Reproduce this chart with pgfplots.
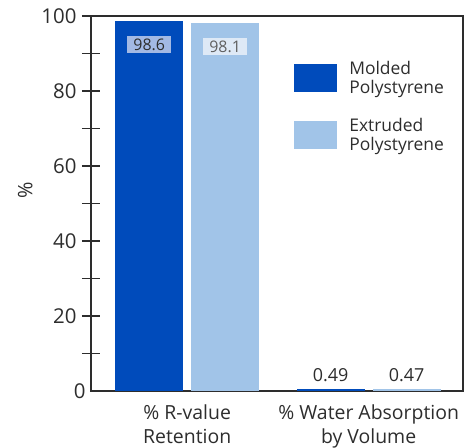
\documentclass[border=0pt]{standalone}
\usepackage{pgfplots}
\pgfplotsset{compat=1.18}
\usepackage{fontspec}
\setmainfont{Open Sans}
\definecolor{dblue}{RGB}{0,75,187}
\definecolor{lblue}{RGB}{161,196,232}
\definecolor{txt}{RGB}{45,45,45}
\definecolor{boxd}{RGB}{163,185,228}
\definecolor{boxl}{RGB}{222,233,246}
\definecolor{txtl}{RGB}{95,95,95}
\begin{document}
\begin{tikzpicture}
\path[use as bounding box] (-91bp,-57bp) rectangle (373bp,391bp);
\begin{axis}[
  scale only axis, width=372bp, height=375bp,
  xmin=-0.53, xmax=1.52, ymin=0, ymax=100,
  axis line style={line width=1.2bp, txt},
  ytick={20,40,...,100}, minor ytick={10,30,...,90},
  extra y ticks={0}, extra y tick style={major tick length=0pt},
  ytick pos=left,
  tick align=center, major tick length=18bp, minor tick length=18bp,
  every tick/.style={line width=1.2bp, txt},
  /pgf/number format/assume math mode=true,
  yticklabel style={font=\fontsize{20.5}{22}\selectfont, text=txt, xshift=-2bp},
  xtick={0,1},
  xticklabels={{\% R-value\\Retention},{\% Water Absorption\\by Volume}},
  xticklabel style={align=center, font=\fontsize{19.5}{24}\selectfont, text=txt, yshift=-1bp},
  x tick style={draw=none},
  ylabel={\%},
  ylabel style={at={(axis description cs:-0.177,0.535)}, anchor=center, font=\fontsize{20}{22}\selectfont, text=txt},
  legend style={draw=none, fill=none, at={(axis description cs:0.546,0.885)}, anchor=north west,
    inner sep=0pt, row sep=19bp,
    nodes={align=left, font=\fontsize{17.5}{19}\selectfont, text=txt, inner xsep=12bp}},
  legend cell align=left,
]
\addplot[ybar, bar width=0.375, fill=dblue, draw=none,
  legend image code/.code={\fill[dblue] (0bp,-14bp) rectangle (43bp,14bp);},
  nodes near coords,
  nodes near coords style={anchor=north, yshift=-15bp, fill=boxd, text=txt,
    inner xsep=6bp, inner ysep=2.5bp, font=\fontsize{16}{17}\selectfont}]
  coordinates {(-0.209,98.6)};
\addlegendentry{Molded\\Polystyrene}
\addplot[ybar, bar width=0.375, fill=lblue, draw=none,
  legend image code/.code={\fill[lblue] (0bp,-14bp) rectangle (43bp,14bp);},
  nodes near coords,
  nodes near coords style={anchor=north, yshift=-15bp, fill=boxl, text=txtl,
    inner xsep=6bp, inner ysep=2.5bp, font=\fontsize{16}{17}\selectfont}]
  coordinates {(0.209,98.1)};
\addlegendentry{Extruded\\Polystyrene}
\addplot[ybar, bar width=0.375, fill=dblue, draw=none, forget plot,
  nodes near coords,
  nodes near coords style={anchor=south, yshift=4bp, text=txt, font=\fontsize{18}{19}\selectfont}]
  coordinates {(0.791,0.49)};
\addplot[ybar, bar width=0.375, fill=lblue, draw=none, forget plot,
  nodes near coords,
  nodes near coords style={anchor=south, yshift=4bp, text=txt, font=\fontsize{18}{19}\selectfont}]
  coordinates {(1.209,0.47)};
\end{axis}
\end{tikzpicture}
\end{document}
